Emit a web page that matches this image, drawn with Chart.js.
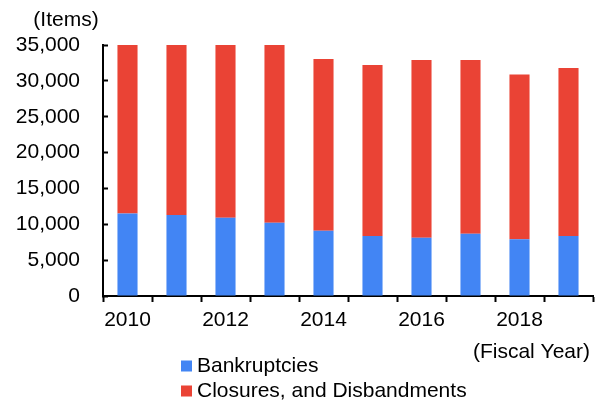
<!DOCTYPE html>
<html>
<head>
<meta charset="utf-8">
<script src="https://cdn.jsdelivr.net/npm/chart.js@4/dist/chart.umd.min.js"></script>
<style>
  html, body { margin: 0; padding: 0; background: #fff; }
  #wrap { width: 600px; height: 403px; position: relative; }
</style>
</head>
<body>
<div id="wrap"><canvas id="c"></canvas></div>
<script>
// ---- data ----
const years = ['2010','2011','2012','2013','2014','2015','2016','2017','2018','2019'];
const bankruptcies = [11500, 11300, 10900, 10200, 9100, 8350, 8120, 8680, 7930, 8350];
const closures     = [23500, 23700, 24100, 24800, 23940, 23850, 24780, 24220, 22960, 23430];
const yTicks = [0, 5000, 10000, 15000, 20000, 25000, 30000, 35000];
const seriesNames = ['Bankruptcies', 'Closures, and Disbandments'];
const yUnit = '(Items)';
const xUnit = '(Fiscal Year)';

const FONT = 'Arial, "Liberation Sans", sans-serif';
const BLUE = '#4285F4';
const RED = '#EA4335';

const extras = {
  id: 'extras',
  afterDraw(chart) {
    const ctx = chart.ctx;
    const area = chart.chartArea;
    ctx.save();
    ctx.fillStyle = '#000';
    ctx.font = '21px ' + FONT;
    ctx.textBaseline = 'middle';
    // y unit
    ctx.textAlign = 'center';
    ctx.fillText(yUnit, 66, 20);
    // x unit
    ctx.textAlign = 'right';
    ctx.fillText(xUnit, area.right - 3, 352);
    // legend (vertical)
    ctx.textAlign = 'left';
    chart.data.datasets.forEach((ds, i) => {
      const y = 366 + i * 25;
      ctx.fillStyle = ds.backgroundColor;
      ctx.fillRect(181, y - 5.5, 11, 11);
      ctx.fillStyle = '#000';
      ctx.fillText(ds.label, 197, y);
    });
    ctx.restore();
  }
};

new Chart(document.getElementById('c'), {
  type: 'bar',
  data: {
    labels: years,
    datasets: [
      { label: seriesNames[0], data: bankruptcies, backgroundColor: BLUE,
        barPercentage: 0.82, categoryPercentage: 0.5 },
      { label: seriesNames[1], data: closures, backgroundColor: RED,
        barPercentage: 0.82, categoryPercentage: 0.5 }
    ]
  },
  options: {
    responsive: true,
    maintainAspectRatio: false,
    animation: false,
    layout: { padding: { top: 45, right: 7, bottom: 0, left: 0 } },
    plugins: {
      legend: { display: false },
      tooltip: { enabled: false },
      title: { display: false }
    },
    scales: {
      x: {
        stacked: true,
        offset: true,
        grid: {
          offset: true,
          drawOnChartArea: false,
          drawTicks: true,
          tickLength: 6,
          tickWidth: 2,
          color: '#000'
        },
        border: { display: true, color: '#000', width: 2 },
        ticks: {
          autoSkip: false,
          maxRotation: 0,
          padding: 6,
          color: '#000',
          font: { family: FONT, size: 21 },
          callback: function(v, i) { return i % 2 === 0 ? this.getLabelForValue(v) : ''; }
        },
        afterFit(scale) { scale.height = 107; }
      },
      y: {
        stacked: true,
        min: 0,
        max: 35000,
        afterBuildTicks(scale) { scale.ticks = yTicks.map(v => ({ value: v })); },
        grid: {
          drawOnChartArea: false,
          drawTicks: true,
          tickLength: -5,
          tickWidth: 2,
          color: '#000'
        },
        border: { display: true, color: '#000', width: 2 },
        ticks: {
          padding: 28,
          color: '#000',
          font: { family: FONT, size: 21 },
          callback: v => v.toLocaleString('en-US')
        },
        afterFit(scale) { scale.width = 103; }
      }
    }
  },
  plugins: [extras]
});
</script>
</body>
</html>
